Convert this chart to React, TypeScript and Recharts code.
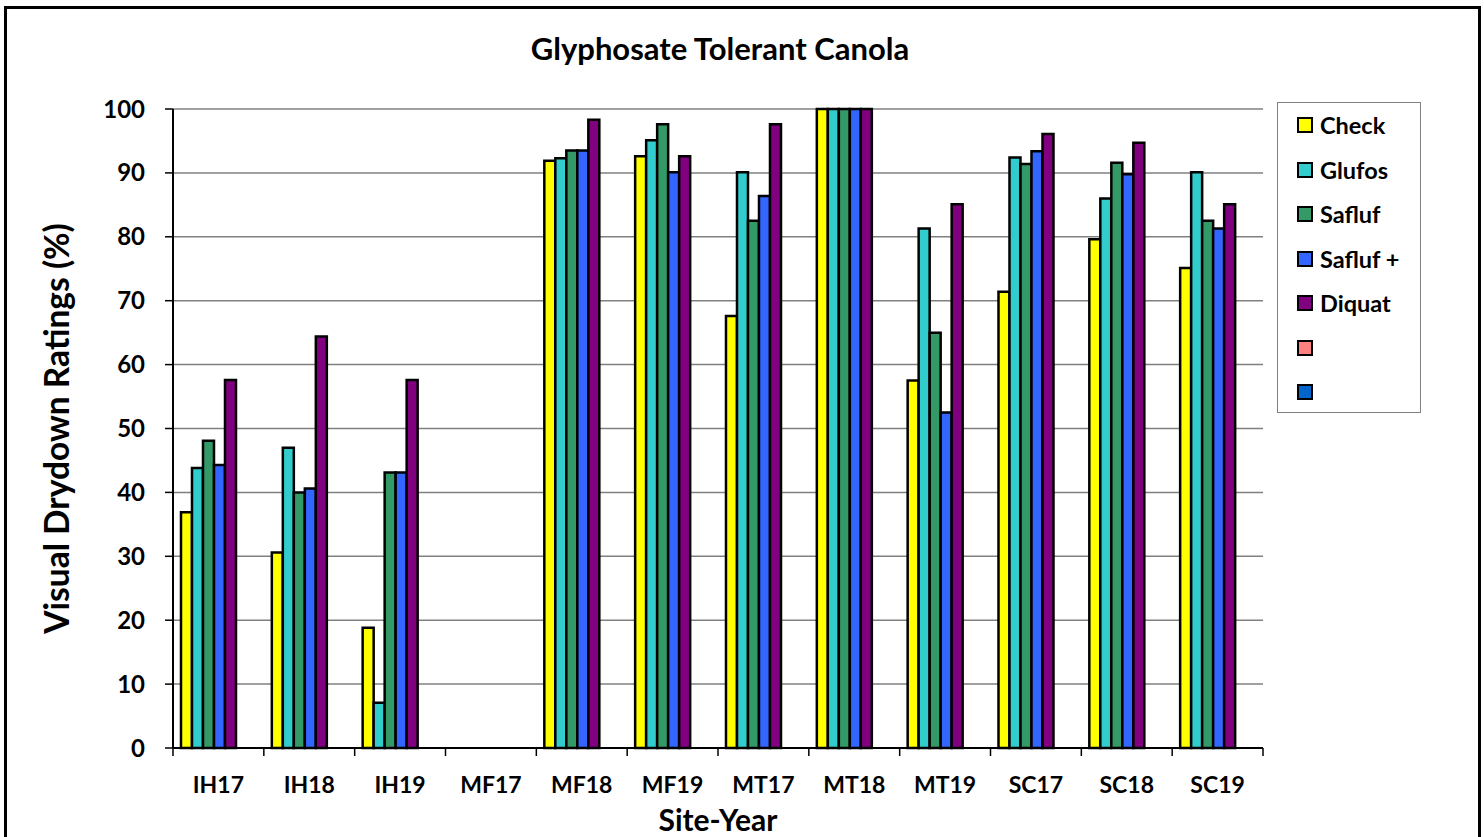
import React from 'react';
import { BarChart, Bar, XAxis, YAxis, CartesianGrid, Legend } from 'recharts';

const categories = ['IH17', 'IH18', 'IH19', 'MF17', 'MF18', 'MF19', 'MT17', 'MT18', 'MT19', 'SC17', 'SC18', 'SC19'];
const check = [36.9, 30.6, 18.8, null, 91.9, 92.6, 67.6, 100, 57.5, 71.4, 79.6, 75.1];
const glufos = [43.8, 47.0, 7.1, null, 92.3, 95.1, 90.1, 100, 81.3, 92.4, 86.0, 90.1];
const safluf = [48.1, 40.0, 43.1, null, 93.5, 97.6, 82.5, 100, 65.0, 91.4, 91.6, 82.5];
const saflufPlus = [44.3, 40.6, 43.1, null, 93.5, 90.1, 86.4, 100, 52.5, 93.4, 89.8, 81.3];
const diquat = [57.6, 64.4, 57.6, null, 98.3, 92.6, 97.6, 100, 85.1, 96.1, 94.7, 85.1];
const extra1 = [null, null, null, null, null, null, null, null, null, null, null, null];
const extra2 = [null, null, null, null, null, null, null, null, null, null, null, null];
const yTicks = [0, 10, 20, 30, 40, 50, 60, 70, 80, 90, 100];

const seriesNames = ['Check', 'Glufos', 'Safluf', 'Safluf +', 'Diquat', '', ''];
const seriesKeys = ['check', 'glufos', 'safluf', 'saflufPlus', 'diquat', 'extra1', 'extra2'];
const seriesColors = ['#FFFF00', '#33CCCC', '#339966', '#3366FF', '#800080', '#FF8080', '#0066CC'];

const data = categories.map((cat, i) => ({
  cat,
  check: check[i],
  glufos: glufos[i],
  safluf: safluf[i],
  saflufPlus: saflufPlus[i],
  diquat: diquat[i],
  extra1: extra1[i],
  extra2: extra2[i],
}));

const FONT = 'Lato, "Open Sans", sans-serif';
const TICK_SIZE = 8;
const X_TICK_MARGIN = 21;

const XTick = (props: any) => {
  const { x, y, payload, index } = props;
  const half = payload && typeof payload.offset === 'number' ? payload.offset : 0;
  const axisY = y - X_TICK_MARGIN - TICK_SIZE;
  return (
    <g>
      <line x1={x - half} x2={x - half} y1={axisY} y2={axisY + TICK_SIZE} stroke="#000" strokeWidth={1.5} />
      {index === categories.length - 1 && (
        <line x1={x + half} x2={x + half} y1={axisY} y2={axisY + TICK_SIZE} stroke="#000" strokeWidth={1.5} />
      )}
      <text x={x} y={y} dy="0.71em" textAnchor="middle" fontFamily={FONT} fontWeight={700} fontSize={23} fill="#000">
        {payload.value}
      </text>
    </g>
  );
};

const LegendContent = () => (
  <div
    style={{
      width: 144,
      height: 311,
      boxSizing: 'border-box',
      border: '1.5px solid #808080',
      background: '#fff',
      paddingTop: 0,
    }}
  >
    {seriesNames.map((name, i) => (
      <div key={i} style={{ display: 'flex', alignItems: 'center', height: 44.5, paddingLeft: 19 }}>
        <div
          style={{
            width: 16,
            height: 16,
            boxSizing: 'border-box',
            border: '2px solid #000',
            background: seriesColors[i],
            marginRight: 7,
            flexShrink: 0,
          }}
        />
        <span style={{ fontFamily: FONT, fontWeight: 700, fontSize: 23.5, color: '#000', whiteSpace: 'nowrap' }}>{name}</span>
      </div>
    ))}
  </div>
);

export default function App() {
  return (
    <div style={{ position: 'fixed', left: 0, top: 0, width: 1484, height: 837, background: '#fff', overflow: 'hidden' }}>
      <div
        style={{
          position: 'absolute',
          left: 4,
          top: 6,
          width: 1477,
          height: 900,
          boxSizing: 'border-box',
          border: '3px solid #000',
        }}
      />
      <div
        style={{
          position: 'absolute',
          left: 0,
          width: 1440,
          top: 28,
          height: 40,
          lineHeight: '40px',
          textAlign: 'center',
          fontFamily: FONT,
          fontWeight: 700,
          fontSize: 31,
          color: '#000',
        }}
      >
        Glyphosate Tolerant Canola
      </div>
      <div style={{ position: 'absolute', left: 0, top: 0 }}>
        <BarChart
          width={1484}
          height={837}
          data={data}
          margin={{ top: 109, right: 221, left: 0, bottom: 49 }}
          barCategoryGap="8.8%"
          barGap={0}
        >
          <CartesianGrid vertical={false} stroke="#808080" strokeWidth={1.5} />
          <XAxis
            dataKey="cat"
            height={40}
            tickLine={false}
            tickSize={TICK_SIZE}
            tickMargin={X_TICK_MARGIN}
            axisLine={{ stroke: '#000', strokeWidth: 2 }}
            tick={<XTick />}
            interval={0}
            label={{
              content: (p: any) => {
                const vb = p.viewBox || { x: 0, y: 0, width: 0 };
                return (
                  <text
                    x={vb.x + vb.width / 2}
                    y={819}
                    textAnchor="middle"
                    dominantBaseline="central"
                    fontFamily={FONT}
                    fontWeight={700}
                    fontSize={30}
                    fill="#000"
                  >
                    Site-Year
                  </text>
                );
              },
            }}
          />
          <XAxis xAxisId="top" dataKey="cat" orientation="top" height={0} tick={false} tickLine={false} axisLine={{ stroke: '#000', strokeWidth: 3 }} />
          <YAxis
            width={173}
            domain={[0, 100]}
            ticks={yTicks}
            interval={0}
            tickSize={TICK_SIZE}
            tickMargin={20}
            tickLine={{ stroke: '#000', strokeWidth: 1.5 }}
            axisLine={{ stroke: '#000', strokeWidth: 2 }}
            tick={{ fontFamily: FONT, fontWeight: 700, fontSize: 24, fill: '#000' }}
            label={{
              content: (p: any) => {
                const vb = p.viewBox || { x: 0, y: 0, height: 0 };
                const cx = vb.x + 56;
                const cy = vb.y + vb.height / 2;
                return (
                  <text
                    x={cx}
                    y={cy}
                    transform={`rotate(-90, ${cx}, ${cy})`}
                    textAnchor="middle"
                    dominantBaseline="central"
                    fontFamily={FONT}
                    fontWeight={700}
                    fontSize={33.5}
                    fill="#000"
                  >
                    Visual Drydown Ratings (%)
                  </text>
                );
              },
            }}
          />
          <YAxis yAxisId="right" orientation="right" width={0} domain={[0, 100]} tick={false} tickLine={false} axisLine={{ stroke: '#000', strokeWidth: 2 }} />
          <Legend
            layout="vertical"
            align="center"
            verticalAlign="middle"
            content={<LegendContent />}
            wrapperStyle={{ position: 'absolute', left: 1277, top: 102, width: 144, height: 311 }}
          />
          {seriesKeys.map((k, i) => (
            <Bar
              key={k}
              dataKey={k}
              name={seriesNames[i] || ' '}
              fill={seriesColors[i]}
              stroke="#000"
              strokeWidth={2.5}
              isAnimationActive={false}
            />
          ))}
        </BarChart>
      </div>
    </div>
  );
}
